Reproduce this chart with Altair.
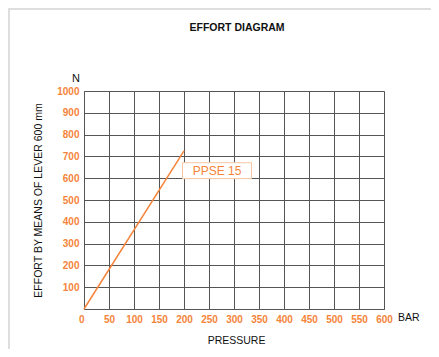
import altair as alt
import pandas as pd

# data
pressure = [0, 200]
effort = [0, 725]
series_name = "PPSE 15"
label_pos_x = [266]
label_pos_y = [634]
box_x = [197]
box_x2 = [335]
box_y = [671]
box_y2 = [598]
x_ticks = list(range(0, 601, 50))
y_ticks = list(range(0, 1001, 100))

ORANGE = "#f5843a"
GRID = "#555555"
FONT = "Liberation Sans"

line_df = pd.DataFrame({"pressure": pressure, "effort": effort})
lab_df = pd.DataFrame({"pressure": label_pos_x, "effort": label_pos_y, "t": [series_name]})
box_df = pd.DataFrame({"pressure": box_x, "x2": box_x2, "effort": box_y, "y2": box_y2})

xscale = alt.Scale(domain=[0, 600], nice=False)
yscale = alt.Scale(domain=[0, 1000], nice=False)

xaxis = alt.Axis(
    values=x_ticks, grid=True, gridColor=GRID, gridOpacity=1, gridWidth=1,
    domainColor=GRID, domainWidth=1, ticks=False, labelOverlap=False,
    labelColor=ORANGE, labelFont=FONT, labelFontSize=10, labelFontWeight="bold",
    labelPadding=5, format="d",
    labelAlign=alt.condition("datum.value == 0", alt.value("right"), alt.value("center")),
    title="PRESSURE", titleFont=FONT, titleFontSize=10.5, titleFontWeight="normal",
    titleColor="#111111", titleX=152, titleY=34, titleBaseline="alphabetic",
    titleAlign="center",
)
yaxis = alt.Axis(
    values=y_ticks, grid=True, gridColor=GRID, gridOpacity=1, gridWidth=1,
    domainColor=GRID, domainWidth=1, ticks=False, labelOverlap=False,
    labelColor=ORANGE, labelFont=FONT, labelFontSize=10, labelFontWeight="bold",
    labelPadding=5, format="d", labelExpr="datum.value == 0 ? '' : datum.label",
    title="EFFORT BY MEANS OF LEVER 600 mm", titleFont=FONT, titleFontSize=10.5,
    titleFontWeight="normal", titleColor="#111111", titleAngle=-90,
    titleX=-46, titleY=109, titleAlign="center", titleBaseline="middle",
)

X = alt.X("pressure:Q", scale=xscale, axis=xaxis)
Y = alt.Y("effort:Q", scale=yscale, axis=yaxis)

line = alt.Chart(line_df).mark_line(color=ORANGE, strokeWidth=1.5).encode(x=X, y=Y)

box = alt.Chart(box_df).mark_rect(fill="white", stroke="#f8c6a2", strokeWidth=1).encode(
    x=X, x2="x2:Q", y=Y, y2="y2:Q",
)

label = alt.Chart(lab_df).mark_text(
    color=ORANGE, font=FONT, fontSize=12, align="center", baseline="middle"
).encode(x=X, y=Y, text="t:N")

one = pd.DataFrame({"a": [0]})

title = alt.Chart(one).mark_text(
    text="EFFORT DIAGRAM", font=FONT, fontSize=10.5, fontWeight="bold",
    color="#111111", align="center", baseline="middle"
).encode(x=alt.value(153), y=alt.value(-63))

n_lab = alt.Chart(one).mark_text(
    text="N", font=FONT, fontSize=11, color="#111111", align="right", baseline="middle"
).encode(x=alt.value(-4), y=alt.value(-12))

bar_lab = alt.Chart(one).mark_text(
    text="BAR", font=FONT, fontSize=10.5, color="#111111", align="left", baseline="middle"
).encode(x=alt.value(314), y=alt.value(227))

frame_left = alt.Chart(one).mark_rule(color="#dedede", strokeWidth=3).encode(
    x=alt.value(-75.5), y=alt.value(-84), y2=alt.value(265)
)
frame_top = alt.Chart(one).mark_rule(color="#dedede", strokeWidth=3).encode(
    y=alt.value(-82.5), x=alt.value(-77), x2=alt.value(360)
)

chart = alt.layer(
    line, frame_left, frame_top, box, label, title, n_lab, bar_lab
).properties(
    width=300, height=218,
    autosize=alt.AutoSizeParams(type="none"),
    padding={"left": 76, "top": 83, "right": 47, "bottom": 40},
).configure_view(stroke=None).configure(background="white")

chart.save("out.html", embed_options={"renderer": "svg", "actions": False})
